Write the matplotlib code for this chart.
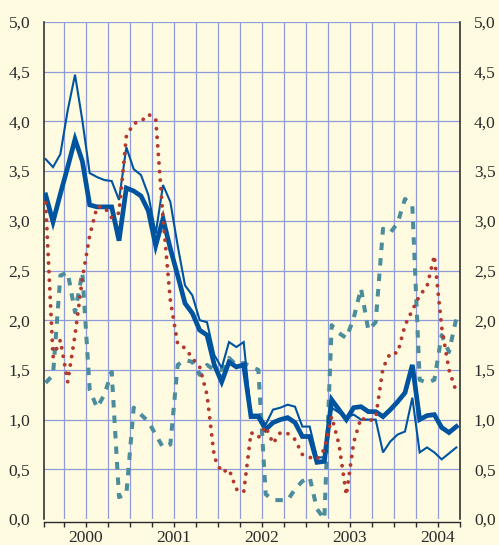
import numpy as np
import matplotlib
matplotlib.use("Agg")
import matplotlib.pyplot as plt
from matplotlib.transforms import blended_transform_factory

# Monthly observations, Jan 2000 .. Sep 2004 (57 months)
months = np.arange(57)

thick_blue = [3.26, 2.99, 3.27, 3.54, 3.82, 3.60, 3.16, 3.14, 3.14, 3.14, 2.80, 3.33,
              3.30, 3.25, 3.10, 2.75, 3.02, 2.72, 2.45, 2.17, 2.07, 1.90, 1.85, 1.55,
              1.38, 1.58, 1.53, 1.55, 1.03, 1.03, 0.90, 0.97, 1.00, 1.02, 0.97, 0.83,
              0.83, 0.57, 0.58, 1.20, 1.10, 1.00, 1.12, 1.13, 1.08, 1.08, 1.03, 1.10,
              1.18, 1.27, 1.55, 1.00, 1.04, 1.05, 0.92, 0.87, 0.93]

thin_blue = [3.62, 3.54, 3.67, 4.11, 4.47, 4.01, 3.48, 3.44, 3.41, 3.40, 3.21, 3.74,
             3.52, 3.46, 3.26, 2.87, 3.36, 3.19, 2.75, 2.35, 2.25, 2.00, 1.98, 1.65,
             1.52, 1.78, 1.73, 1.78, 1.05, 1.05, 0.95, 1.10, 1.12, 1.15, 1.13, 0.93,
             0.93, 0.62, 0.62, 1.12, 1.07, 1.02, 1.05, 1.00, 1.00, 1.00, 0.67, 0.78,
             0.85, 0.88, 1.22, 0.67, 0.72, 0.67, 0.60, 0.66, 0.72]

red_dotted = [3.18, 1.63, 1.80, 1.38, 1.85, 2.42, 2.85, 3.14, 3.14, 3.03, 3.08, 3.85,
              3.98, 4.00, 4.07, 4.03, 3.03, 2.20, 1.76, 1.72, 1.62, 1.53, 1.25, 0.62,
              0.47, 0.50, 0.30, 0.27, 0.87, 0.82, 0.93, 0.76, 0.87, 0.86, 0.80, 0.65,
              0.62, 0.60, 0.70, 1.03, 0.75, 0.24, 0.77, 1.02, 0.98, 1.02, 1.52, 1.67,
              1.67, 1.95, 2.10, 2.25, 2.34, 2.65, 1.93, 1.50, 1.28]

teal_dashed = [1.37, 1.45, 2.45, 2.48, 2.08, 2.48, 1.30, 1.12, 1.25, 1.48, 0.22, 0.25,
               1.12, 1.05, 0.98, 0.85, 0.72, 0.75, 1.55, 1.60, 1.58, 1.45, 1.55, 1.50,
               1.50, 1.62, 1.55, 1.57, 1.53, 1.50, 0.25, 0.19, 0.19, 0.19, 0.30, 0.38,
               0.42, 0.10, 0.00, 1.95, 1.87, 1.82, 2.02, 2.32, 1.90, 1.98, 2.92, 2.88,
               2.98, 3.22, 3.15, 1.40, 1.37, 1.40, 1.85, 1.68, 2.02]

year_labels = ["2000", "2001", "2002", "2003", "2004"]
year_centres = [5.5, 17.5, 29.5, 41.5, 53.5]
y_ticks = [0.0, 0.5, 1.0, 1.5, 2.0, 2.5, 3.0, 3.5, 4.0, 4.5, 5.0]

BG = "#fefbe1"
GRID = "#909cd8"
BLUE = "#00549f"
RED = "#b3392e"
TEAL = "#4b8d9c"
TXT = "#2a2a2a"

plt.rcParams["font.family"] = ["Liberation Serif", "DejaVu Serif"]

fig = plt.figure(figsize=(4.99, 5.45), dpi=100, facecolor=BG)
ax = fig.add_axes([44/499, 1-519/545, (460-44)/499, (519-22)/545])
ax.set_facecolor(BG)

ax.set_xlim(-0.23, 56.5)
ax.set_ylim(0, 5)

# grid
quarters = np.arange(2.5, 57, 3)
for q in quarters:
    ax.axvline(q, color=GRID, lw=0.9, zorder=1)
for yv in y_ticks[1:]:
    ax.axhline(yv, color=GRID, lw=0.9, zorder=1)

ax.plot(months, teal_dashed, color=TEAL, lw=2.9, linestyle=(0, (1.85, 2.0)),
        dash_capstyle="butt", zorder=3)
ax.plot(months, thin_blue, color=BLUE, lw=1.5, zorder=4, solid_joinstyle="miter")
ax.plot(months, thick_blue, color=BLUE, lw=3.4, zorder=5, solid_joinstyle="miter")
ax.plot(months, red_dotted, color=RED, lw=2.8, linestyle=(0, (0.01, 2.2)),
        dash_capstyle="round", zorder=6)

# y axis: both sides
ax.set_yticks(y_ticks)
ax.set_yticklabels([f"{v:.1f}".replace(".", ",") for v in y_ticks])
ax.tick_params(axis="y", which="both", length=0, labelsize=12.5, colors=TXT,
               left=False, right=False, labelleft=True, labelright=True, pad=10)

# x axis
ax.set_xticks(np.concatenate([[-0.23], quarters]))
ax.set_xticklabels([])
ax.tick_params(axis="x", which="major", direction="out", length=3.6, width=1.0,
               color=TXT)
trans = blended_transform_factory(ax.transData, ax.transAxes)
for xc, lab in zip(year_centres, year_labels):
    ax.text(xc, -0.038, lab, transform=trans, ha="center", va="center",
            fontsize=12.5, color=TXT)

ax.spines["top"].set_visible(False)
ax.spines["left"].set_color("#222222")
ax.spines["left"].set_linewidth(1.1)
ax.spines["right"].set_color("#222222")
ax.spines["right"].set_linewidth(1.1)
ax.spines["bottom"].set_color(TXT)
ax.spines["bottom"].set_linewidth(1.0)
ax.spines["bottom"].set_position(("outward", 2.2))

fig.savefig("out.png", dpi=100, facecolor=BG)
